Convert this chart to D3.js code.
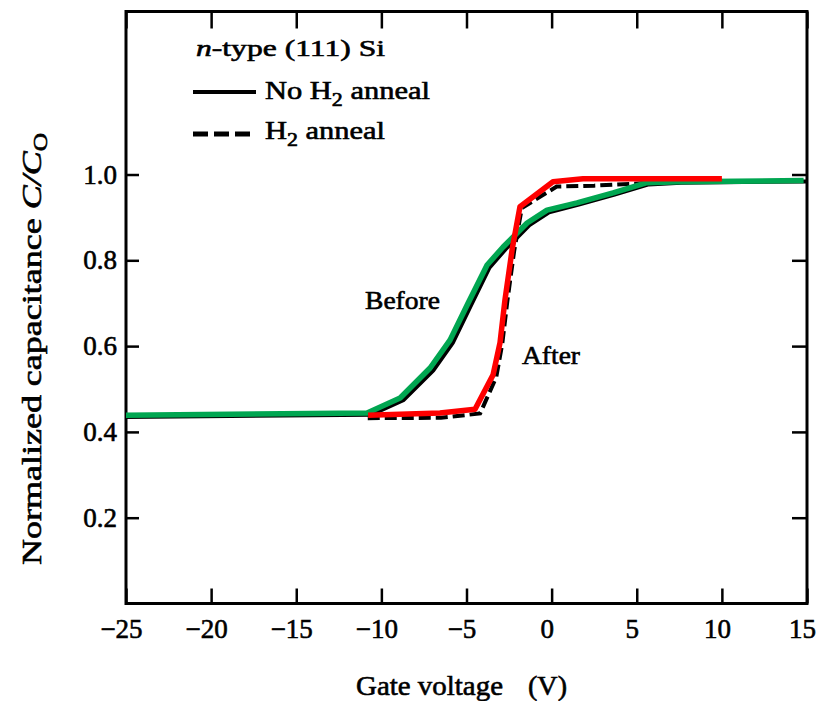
<!DOCTYPE html>
<html><head><meta charset="utf-8">
<script src="https://cdn.jsdelivr.net/npm/d3@7"></script>
<style>body{margin:0;background:#fff}</style>
</head><body><svg id="chart" width="831" height="701"></svg>
<script>
// ---- data ----
const xTicks = [-25, -20, -15, -10, -5, 0, 5, 10, 15];
const yTicks = [0.2, 0.4, 0.6, 0.8, 1.0];

// Original printed curves (black)
const noH2V = [-25, -10.6, -8.7, -6.95, -5.8, -4.75, -3.65, -2.7, -1.3, -0.15, 1.6, 3.7, 5.7, 7.6, 15];
const noH2C = [0.435, 0.440, 0.474, 0.543, 0.608, 0.694, 0.783, 0.826, 0.882, 0.912, 0.930, 0.953, 0.977, 0.981, 0.984];
const h2V = [-10.8, -6.5, -4.2, -3.25, -2.9, -2.6, -2.2, -1.75, 0.3, 2.5, 5.5, 10];
const h2C = [0.432, 0.433, 0.443, 0.528, 0.605, 0.705, 0.822, 0.922, 0.972, 0.974, 0.980, 0.986];

// Coloured traces
const beforeV = [-25, -10.84, -8.9, -7.14, -5.97, -4.91, -3.79, -2.85, -1.44, -0.27, 1.49, 3.61, 5.6, 7.54, 14.8];
const beforeC = [0.439, 0.444, 0.479, 0.549, 0.614, 0.700, 0.789, 0.831, 0.887, 0.917, 0.934, 0.957, 0.981, 0.983, 0.986];
const afterV = [-10.78, -6.56, -4.5, -3.44, -3.03, -2.74, -2.32, -1.86, 0.08, 1.84, 10.0];
const afterC = [0.439, 0.444, 0.453, 0.533, 0.608, 0.708, 0.825, 0.925, 0.983, 0.990, 0.990];

const zip = (a, b) => a.map((v, i) => [v, b[i]]);

// ---- chart ----
const svg = d3.select('#chart');
const FONT = '"Liberation Serif", "Times New Roman", serif';
const x = d3.scaleLinear().domain([-25, 15]).range([126, 807]);
const y = d3.scaleLinear().domain([0, 1.38]).range([603.5, 11.5]);

const line = d3.line().x(d => x(d[0])).y(d => y(d[1]));

// frame
svg.append('rect')
  .attr('x', x(-25)).attr('y', y(1.38))
  .attr('width', x(15) - x(-25)).attr('height', y(0) - y(1.38))
  .attr('fill', 'none').attr('stroke', '#000').attr('stroke-width', 3);

// axes
const fmtX = d => d < 0 ? '\u2212' + Math.abs(d) : String(d);
const gB = svg.append('g').attr('transform', `translate(0,${y(0)})`)
  .call(d3.axisBottom(x).tickValues(xTicks).tickSize(-15).tickPadding(15).tickFormat(fmtX));
const gL = svg.append('g').attr('transform', `translate(${x(-25)},0)`)
  .call(d3.axisLeft(y).tickValues(yTicks).tickSize(-13).tickPadding(9).tickFormat(d3.format('.1f')));
const gR = svg.append('g').attr('transform', `translate(${x(15)},0)`)
  .call(d3.axisRight(y).tickValues(yTicks).tickSize(-15).tickFormat(''));
const gT = svg.append('g').attr('transform', `translate(0,${y(1.38)})`)
  .call(d3.axisTop(x).tickValues(xTicks).tickSize(-17).tickFormat(''));

[gB, gL, gR, gT].forEach(g => {
  g.select('.domain').remove();
  g.selectAll('.tick line').attr('stroke', '#000').attr('stroke-width', 2.5);
  g.selectAll('text').attr('font-family', FONT).attr('font-size', 27).attr('fill', '#000')
    .attr('stroke', '#000').attr('stroke-width', 0.6);
});
gB.selectAll('text').attr('dx', -5);

// black printed curves
svg.append('path').datum(zip(noH2V, noH2C)).attr('d', line)
  .attr('fill', 'none').attr('stroke', '#000').attr('stroke-width', 4);
svg.append('path').datum(zip(h2V, h2C)).attr('d', line)
  .attr('fill', 'none').attr('stroke', '#000').attr('stroke-width', 4)
  .attr('stroke-dasharray', '12,5');

// coloured traces
svg.append('path').datum(zip(beforeV, beforeC)).attr('d', line)
  .attr('fill', 'none').attr('stroke', '#00a651').attr('stroke-width', 5.5)
  .attr('stroke-linejoin', 'round');
svg.append('path').datum(zip(afterV, afterC)).attr('d', line)
  .attr('fill', 'none').attr('stroke', '#ff0000').attr('stroke-width', 5.5)
  .attr('stroke-linejoin', 'round');

// texts
function txt(xp, yp, size, len) {
  const t = svg.append('text').attr('x', xp).attr('y', yp)
    .attr('font-family', FONT).attr('font-size', size).attr('fill', '#000')
    .attr('stroke', '#000').attr('stroke-width', 0.6);
  if (len) t.attr('textLength', len).attr('lengthAdjust', 'spacingAndGlyphs');
  return t;
}
const t1 = txt(196, 56, 24, 189);
t1.append('tspan').attr('font-style', 'italic').text('n');
t1.append('tspan').text('-type (111) Si');

// legend
svg.append('line').attr('x1', 193).attr('x2', 256).attr('y1', 92).attr('y2', 92)
  .attr('stroke', '#000').attr('stroke-width', 4);
svg.append('line').attr('x1', 193).attr('x2', 253).attr('y1', 134).attr('y2', 134)
  .attr('stroke', '#000').attr('stroke-width', 5).attr('stroke-dasharray', '15,6');
const t2 = txt(265, 99, 25, 165);
t2.append('tspan').text('No H');
t2.append('tspan').attr('dy', 7).attr('font-size', 18).text('2');
t2.append('tspan').attr('dy', -7).text('\u00a0anneal');
const t3 = txt(265, 139, 25, 120);
t3.append('tspan').text('H');
t3.append('tspan').attr('dy', 7).attr('font-size', 18).text('2');
t3.append('tspan').attr('dy', -7).text('\u00a0anneal');

txt(365, 309, 26, 75).text('Before');
txt(522, 364, 26, 58).text('After');

// axis titles
txt(356, 695, 28, 147).text('Gate voltage');
txt(528, 695, 28, 39).text('(V)');

const yt = svg.append('text')
  .attr('transform', 'translate(41,565) rotate(-90)')
  .attr('font-family', FONT).attr('font-size', 27).attr('fill', '#000')
  .attr('stroke', '#000').attr('stroke-width', 0.6)
  .attr('textLength', 432).attr('lengthAdjust', 'spacingAndGlyphs');
yt.append('tspan').text('Normalized capacitance ');
yt.append('tspan').attr('font-style', 'italic').text('C/C');
yt.append('tspan').attr('dy', 6).attr('font-size', 19).text('O');
</script>
</body></html>
